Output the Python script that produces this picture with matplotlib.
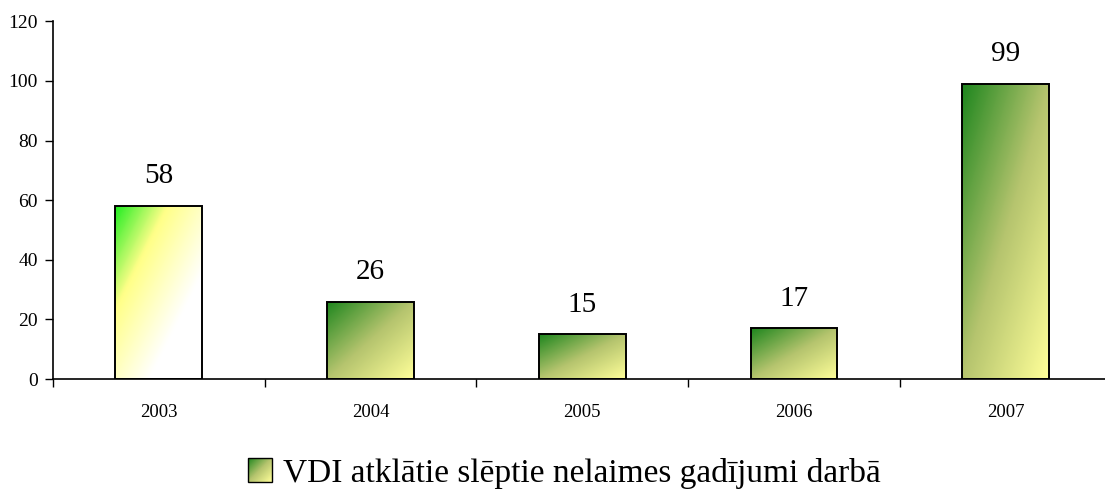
import numpy as np
import matplotlib
matplotlib.use('Agg')
import matplotlib.pyplot as plt
from matplotlib.colors import LinearSegmentedColormap
from matplotlib.legend_handler import HandlerBase
from matplotlib.image import BboxImage
from matplotlib.transforms import Bbox, TransformedBbox
from matplotlib.patches import Rectangle

years = ['2003', '2004', '2005', '2006', '2007']
cases = [58, 26, 15, 17, 99]
legend_label = 'VDI atklātie slēptie nelaimes gadījumi darbā'

plt.rcParams['font.family'] = ['Liberation Serif', 'DejaVu Serif']

# colour ramps along the bar diagonal (top-left -> bottom-right)
cmap_first = LinearSegmentedColormap.from_list(
    'first', [(0.0, '#22ee22'), (0.3, '#ffff88'), (0.7, '#ffffff'), (1.0, '#ffffff')])
cmap_rest = LinearSegmentedColormap.from_list(
    'rest', [(0.0, '#1e861e'), (0.5, '#b5c46e'), (1.0, '#ffff99')])


def diag_image(cmap, n=120):
    u = np.linspace(0, 1, n)
    xx, yy = np.meshgrid(u, u)  # yy=0 at top row
    t = (xx + yy) / 2
    return cmap(t)


class GradientHandler(HandlerBase):
    def create_artists(self, legend, orig_handle, xdescent, ydescent,
                       width, height, fontsize, trans):
        side = min(width, height)
        x0 = -xdescent + (width - side) / 2
        y0 = -ydescent + (height - side) / 2
        bb = TransformedBbox(Bbox.from_bounds(x0, y0, side, side), trans)
        img = BboxImage(bb, interpolation='bilinear')
        img.set_data(diag_image(cmap_rest))
        rect = Rectangle((x0, y0), side, side, facecolor='none',
                         edgecolor='black', linewidth=1.0, transform=trans)
        return [img, rect]


fig = plt.figure(figsize=(11.05, 4.93), dpi=100)
ax = fig.add_axes([0.048, 0.231, 0.958, 0.726])

x = np.arange(len(years))
width = 0.41
bars = ax.bar(x, cases, width=width, facecolor='none', edgecolor='black',
              linewidth=1.4, zorder=3)

for i, (bar, val) in enumerate(zip(bars, cases)):
    cmap = cmap_first if i == 0 else cmap_rest
    im = ax.imshow(diag_image(cmap), extent=(bar.get_x(), bar.get_x() + width, 0, val),
                   aspect='auto', origin='upper', interpolation='bilinear', zorder=2)
    im.set_clip_path(bar)
    ax.annotate(str(val), (bar.get_x() + width / 2, val), xytext=(0, 12),
                textcoords='offset points', ha='center', va='bottom', fontsize=21)

ax.set_xlim(-0.5, len(years) - 0.5)
ax.set_ylim(0, 120)
ax.set_yticks(range(0, 121, 20))
ax.set_xticks(x)
ax.set_xticklabels(years)
ax.set_xticks(np.arange(-0.5, len(years), 1), minor=True)
ax.tick_params(axis='x', which='major', length=0, pad=18, labelsize=13.5)
ax.tick_params(axis='x', which='minor', length=6, width=1, direction='out')
ax.tick_params(axis='y', length=6, width=1, direction='out', pad=5, labelsize=14)

for side in ['top', 'right']:
    ax.spines[side].set_visible(False)
ax.spines['left'].set_linewidth(1.2)
ax.spines['bottom'].set_linewidth(1.2)

proxy = Rectangle((0, 0), 1, 1)
fig.legend([proxy], [legend_label], handler_map={Rectangle: GradientHandler()},
           loc='center', bbox_to_anchor=(0.511, 0.04), frameon=False,
           fontsize=24, handlelength=0.7, handleheight=0.7, handletextpad=0.35)

fig.savefig('out.png', dpi=100)
